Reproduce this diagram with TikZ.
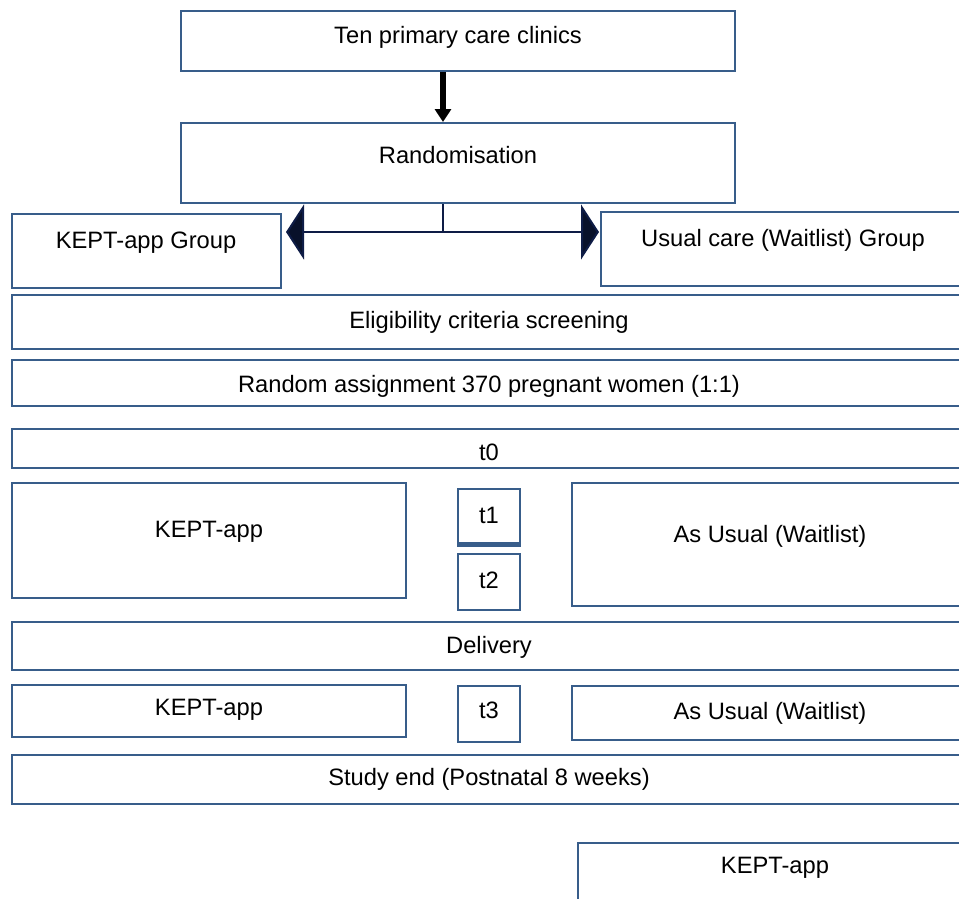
\documentclass[tikz,border=0pt]{standalone}
\usepackage{fontspec}
\setmainfont{Liberation Sans}
\usetikzlibrary{arrows.meta,fit}
\definecolor{boxblue}{RGB}{56,93,138}
\definecolor{navy}{RGB}{14,28,70}
\tikzset{
  box/.style={draw=boxblue, line width=2pt, inner sep=0pt},
  lbl/.style={font=\fontsize{23.7}{28}\selectfont, inner sep=0pt},
  link/.style={draw=navy, line width=2pt},
}
\begin{document}
\begin{tikzpicture}[x=1pt, y=-1pt]
\useasboundingbox (0,0) rectangle (959,898);
\clip (0,0) rectangle (959,898);

% boxes
\node[box, fit={(181,11) (735,71)}] (clinics) {};
\node[box, fit={(181,123) (735,203)}] (random) {};
\node[box, fit={(12,214) (281,288)}] (kgroup) {};
\node[box, fit={(601,212) (966,286)}] (ugroup) {};
\node[box, fit={(12,295) (966,349)}] (elig) {};
\node[box, fit={(12,360) (966,406)}] (assign) {};
\node[box, fit={(12,429) (966,468)}] (tzero) {};
\node[box, fit={(12,483) (406,598)}] (kappA) {};
\node[box, fit={(458,489) (520,545)}] (tone) {};
\node[box, fit={(458,554) (520,610)}] (ttwo) {};
\node[box, fit={(572,483) (968,606)}] (usualA) {};
\node[box, fit={(12,622) (966,670)}] (delivery) {};
\node[box, fit={(12,685) (406,737)}] (kappB) {};
\node[box, fit={(458,686) (520,742)}] (tthree) {};
\node[box, fit={(572,686) (968,740)}] (usualB) {};
\node[box, fit={(12,755) (966,804)}] (studyend) {};
\node[box, fit={(578,843) (972,920)}] (kappC) {};
\draw[boxblue, line width=5pt] ([yshift=2pt]tone.south west) -- ([yshift=2pt]tone.south east);

% labels
\node[lbl] (clinicsT) at (458,37) {Ten primary care clinics};
\node[lbl] (randomT) at (458,155) {Randomisation};
\node[lbl] (kgroupT) at (146,243) {KEPT-app Group};
\node[lbl] (ugroupT) at (783,240) {Usual care (Waitlist) Group};
\node[lbl] (eligT) at (489,322) {Eligibility criteria screening};
\node[lbl] (assignT) at (489,386) {Random assignment 370 pregnant women (1:1)};
\node[lbl] (tzeroT) at (489,452) {t0};
\node[lbl] (kappAT) at (209,532) {KEPT-app};
\node[lbl] (toneT) at (489,515) {t1};
\node[lbl] (ttwoT) at (489,580) {t2};
\node[lbl] (usualAT) at (770,536) {As Usual (Waitlist)};
\node[lbl] (deliveryT) at (489,647) {Delivery};
\node[lbl] (kappBT) at (209,710) {KEPT-app};
\node[lbl] (tthreeT) at (489,710) {t3};
\node[lbl] (usualBT) at (770,713) {As Usual (Waitlist)};
\node[lbl] (studyendT) at (489,779) {Study end (Postnatal 8 weeks)};
\node[lbl] (kappCT) at (775,868) {KEPT-app};

% arrows
\coordinate (split) at (443,232);
\draw[line width=5.5pt, -{Triangle[width=16pt,length=13pt]}] (clinics.south -| split) -- (random.north -| split);
\draw[link] (random.south -| split) -- (split);
\draw[link, {Triangle[width=55pt,length=18pt,fill=navy!60!black]}-{Triangle[width=55pt,length=18pt,fill=navy!60!black]}]
  ([xshift=4pt]kgroup.east |- split) -- ([xshift=-1pt]ugroup.west |- split);
\end{tikzpicture}
\end{document}
